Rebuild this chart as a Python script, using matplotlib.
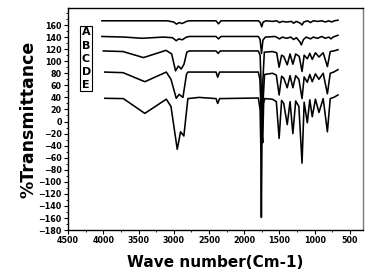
import matplotlib
matplotlib.use("Agg")
import matplotlib.pyplot as plt
from matplotlib.ticker import MultipleLocator

labels = ['A', 'B', 'C', 'D', 'E']

wn_A = [4020, 3100, 3000, 2962, 2925, 2880, 2820, 2780, 2400, 2365, 2330, 1800, 1772, 1752, 1732, 1690,
        1600, 1540, 1500, 1460, 1400, 1330, 1300, 1260, 1205, 1180, 1155, 1100, 1060, 1020, 960, 900,
        850, 800, 760, 720, 670]
val_A = [167, 167, 165, 161.5, 164, 162.5, 166, 167, 167, 162, 167, 167, 164, 157, 165, 167,
         166, 167, 164, 166, 165, 166, 163, 166, 163, 160, 165, 167, 164, 167, 166, 167,
         165, 167, 165, 167, 168]

wn_B = [4020, 3700, 3450, 3150, 3020, 2965, 2930, 2880, 2820, 2780, 2400, 2365, 2330, 1800, 1775,
        1755, 1735, 1700, 1560, 1500, 1460, 1400, 1340, 1300, 1260, 1210, 1190, 1160, 1120, 1060,
        1020, 960, 900, 850, 800, 770, 740, 670]
val_B = [141, 140, 138, 140, 139, 134, 137, 135.5, 140, 141, 141, 137, 141, 141, 136,
         113, 135, 140, 141, 137, 140, 138, 140, 136, 139, 132, 127, 136, 140, 137,
         140, 138, 141, 138, 140, 137, 140, 143]

wn_C = [4000, 3720, 3430, 3110, 3030, 2975, 2935, 2895, 2855, 2815, 2780, 2400, 2370, 2340, 1800,
        1775, 1760, 1748, 1735, 1715, 1600, 1540, 1505, 1470, 1440, 1390, 1350, 1310, 1270, 1220,
        1180, 1150, 1105, 1070, 1035, 990, 940, 880, 820, 780, 730, 670]
val_C = [117, 116, 106, 118, 112, 84, 92, 87, 95, 115, 117, 117, 113, 117, 117,
         110, 60, -10, 70, 115, 116, 114, 90, 110, 108, 94, 112, 95, 112, 108,
         83, 110, 104, 113, 103, 114, 107, 114, 91, 116, 117, 119]

wn_D = [3980, 3720, 3410, 3106, 3040, 2965, 2925, 2870, 2820, 2800, 2400, 2377, 2350, 1800, 1778,
        1762, 1752, 1742, 1730, 1712, 1600, 1545, 1505, 1470, 1440, 1390, 1350, 1310, 1270, 1225,
        1180, 1150, 1105, 1070, 1035, 990, 940, 880, 820, 780, 730, 670]
val_D = [82, 81, 66, 82, 70, 38.5, 45, 40, 78, 82, 82, 73.5, 82, 82, 70,
         20, -36, 10, 40, 78, 80, 77, 44, 75, 72, 56, 76, 56, 76, 70,
         38, 74, 65, 78, 66, 79, 70, 80, 46, 80, 82, 86]

wn_E = [3979, 3716, 3411, 3106, 3040, 2951, 2904, 2857, 2800, 2641, 2400, 2377, 2350, 1800, 1775,
        1765, 1757, 1748, 1738, 1725, 1710, 1600, 1545, 1505, 1470, 1440, 1390, 1350, 1310, 1270,
        1225, 1180, 1150, 1105, 1070, 1035, 990, 940, 880, 820, 780, 730, 670]
val_E = [38.5, 38, 13.5, 37, 25, -46, -17, -24, 38, 40, 38, 30, 38, 39, 20,
         -40, -159, -20, -35, 30, 38, 37, 33, -28, 35, 30, -5, 33, -20, 34,
         25, -69, 32, -2, 36, 8, 37, 15, 38, -17, 38, 40, 44]

curves = [(wn_A, val_A), (wn_B, val_B), (wn_C, val_C), (wn_D, val_D), (wn_E, val_E)]

fig = plt.figure(figsize=(3.68, 2.71), dpi=100)
ax = fig.add_axes([0.185, 0.151, 0.801, 0.819])

for wn, val in curves:
    ax.plot(wn, val, color='black', lw=1.15)

ax.xaxis.set_major_locator(MultipleLocator(500))
ax.xaxis.set_minor_locator(MultipleLocator(250))
ax.set_yticks(list(range(-180, 161, 20)))
ax.yaxis.set_minor_locator(MultipleLocator(10))
ax.set_xlim(4500, 317)
ax.set_ylim(-180, 188)
ax.tick_params(which='major', direction='out', length=3, width=0.8, labelsize=5.8, pad=1.5)
ax.tick_params(which='minor', direction='out', length=1.5, width=0.6)
for lbl in ax.get_xticklabels() + ax.get_yticklabels():
    lbl.set_fontweight('bold')

for s in ['left', 'bottom', 'top']:
    ax.spines[s].set_linewidth(1.0)
ax.spines['right'].set_color('#777777')
ax.spines['right'].set_linewidth(1.0)

ax.set_xlabel('Wave number(Cm-1)', fontsize=11, fontweight='bold', labelpad=7)
ax.set_ylabel('%Transmittance', fontsize=12.5, fontweight='bold', labelpad=1)

ax.text(0.046, 0.772, '\n'.join(labels), transform=ax.transAxes, fontsize=8, fontweight='bold',
        ha='left', va='center', linespacing=1.4,
        bbox=dict(boxstyle='square,pad=0.12', facecolor='white', edgecolor='black', lw=0.8))

fig.savefig('out.png', dpi=100)
